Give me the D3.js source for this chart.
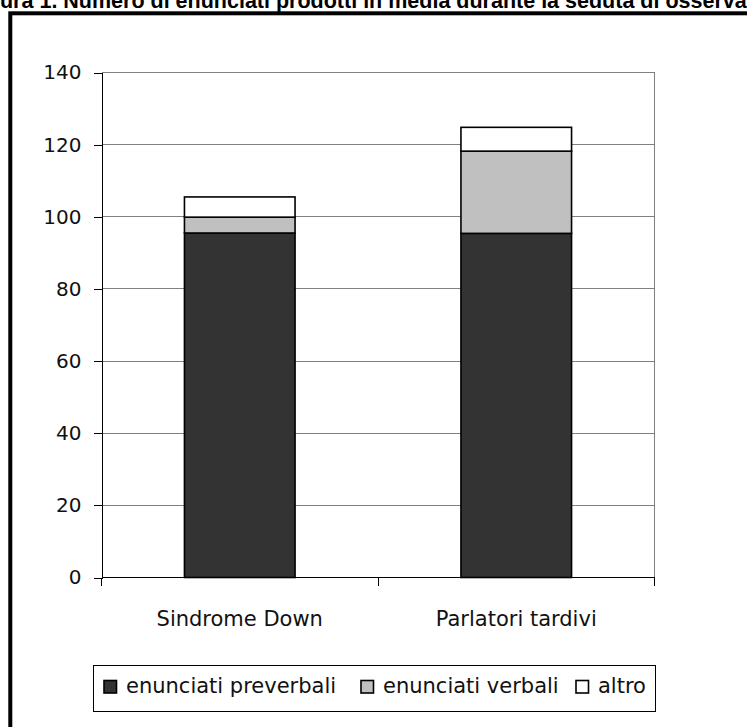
<!DOCTYPE html>
<html>
<head>
<meta charset="utf-8">
<script src="https://cdn.jsdelivr.net/npm/d3@7"></script>
<style>
  html, body { margin: 0; padding: 0; background: #fff; overflow: hidden; }
  svg { display: block; }
</style>
</head>
<body>
<svg id="chart" width="747" height="727"></svg>
<script>
// Average number of utterances per observation session, stacked by type
const titleText = "Figura 1. Numero di enunciati prodotti in media durante la seduta di osservazione";
const titleHidden = "Fig";
const titleVisible = "ura 1. Numero di enunciati prodotti in media durante la seduta di osserva";

const categories = ["Sindrome Down", "Parlatori tardivi"];
const seriesNames = ["enunciati preverbali", "enunciati verbali", "altro"];
const preverbali = [95.5, 95.4];
const verbali = [4.4, 22.8];
const altro = [5.6, 6.6];
const yTicks = [0, 20, 40, 60, 80, 100, 120, 140];
const seriesColors = ["#333333", "#c0c0c0", "#ffffff"];

const svg = d3.select("#chart");
const W = 747, H = 727;

// Title, clipped by the page edges
const measure = (str, size) => {
  const t = svg.append("text")
    .attr("font-family", "Liberation Sans, Arial, sans-serif")
    .attr("font-weight", "bold")
    .attr("font-size", size)
    .text(str);
  const w = t.node().getComputedTextLength();
  t.remove();
  return w;
};
const visW = measure(titleVisible, 100);
const hidW = measure(titleHidden, 100);
const titleSize = 100 * W / visW;
svg.append("text")
  .attr("x", -hidW * titleSize / 100)
  .attr("y", 7.5)
  .attr("font-family", "Liberation Sans, Arial, sans-serif")
  .attr("font-weight", "bold")
  .attr("font-size", titleSize)
  .attr("fill", "#000")
  .text(titleText);

// Outer chart frame
svg.append("rect")
  .attr("x", 10.3).attr("y", 13.3)
  .attr("width", 800).attr("height", 800)
  .attr("fill", "none")
  .attr("stroke", "#000")
  .attr("stroke-width", 4);

// Plot area
const plot = { left: 101.5, right: 654.5, top: 72.5, bottom: 577.5 };

const x = d3.scaleBand()
  .domain(categories)
  .range([plot.left, plot.right])
  .paddingInner(0.6)
  .paddingOuter(0.3);

const y = d3.scaleLinear()
  .domain([0, 140])
  .range([plot.bottom, plot.top]);

// Gridlines
svg.append("g")
  .selectAll("line")
  .data(yTicks.filter(d => d > 0))
  .join("line")
  .attr("x1", plot.left).attr("x2", plot.right)
  .attr("y1", d => y(d)).attr("y2", d => y(d))
  .attr("stroke", "#808080")
  .attr("stroke-width", 1)
  .attr("shape-rendering", "crispEdges");

// Right border of the plot area
svg.append("line")
  .attr("x1", plot.right).attr("x2", plot.right)
  .attr("y1", plot.top).attr("y2", plot.bottom)
  .attr("stroke", "#808080")
  .attr("stroke-width", 1)
  .attr("shape-rendering", "crispEdges");

// Stacked bars
const rows = categories.map((c, i) => ({
  cat: c,
  "enunciati preverbali": preverbali[i],
  "enunciati verbali": verbali[i],
  "altro": altro[i]
}));
const stacked = d3.stack().keys(seriesNames)(rows);

svg.append("g")
  .selectAll("g")
  .data(stacked)
  .join("g")
  .attr("fill", (d, i) => seriesColors[i])
  .selectAll("rect")
  .data(d => d)
  .join("rect")
  .attr("x", d => x(d.data.cat))
  .attr("width", x.bandwidth())
  .attr("y", d => y(d[1]))
  .attr("height", d => y(d[0]) - y(d[1]))
  .attr("stroke", "#000")
  .attr("stroke-width", 1.6);

// Y axis
const yAxis = svg.append("g")
  .attr("transform", `translate(${plot.left},0)`)
  .call(d3.axisLeft(y).tickValues(yTicks).tickSize(8).tickPadding(12).tickFormat(d3.format("d")));
yAxis.select(".domain").attr("stroke", "#000").attr("shape-rendering", "crispEdges");
yAxis.selectAll(".tick line").attr("stroke", "#000").attr("shape-rendering", "crispEdges");
yAxis.selectAll("text")
  .attr("font-family", "DejaVu Sans, sans-serif")
  .attr("font-size", 20)
  .attr("fill", "#111");

// X axis: line with ticks at category boundaries
const boundaries = d3.range(categories.length + 1)
  .map(i => plot.left + i * (plot.right - plot.left) / categories.length);
const xAxis = svg.append("g");
xAxis.append("line")
  .attr("x1", plot.left).attr("x2", plot.right)
  .attr("y1", plot.bottom).attr("y2", plot.bottom)
  .attr("stroke", "#000")
  .attr("shape-rendering", "crispEdges");
xAxis.selectAll("line.bt")
  .data(boundaries)
  .join("line")
  .attr("class", "bt")
  .attr("x1", d => d).attr("x2", d => d)
  .attr("y1", plot.bottom).attr("y2", plot.bottom + 8)
  .attr("stroke", "#000")
  .attr("shape-rendering", "crispEdges");
xAxis.selectAll("text")
  .data(categories)
  .join("text")
  .attr("x", d => x(d) + x.bandwidth() / 2)
  .attr("y", 625.5)
  .attr("text-anchor", "middle")
  .attr("font-family", "DejaVu Sans, sans-serif")
  .attr("font-size", 21)
  .attr("fill", "#111")
  .text(d => d);

// Legend
const legend = svg.append("g");
legend.append("rect")
  .attr("x", 93.5).attr("y", 665.5)
  .attr("width", 562).attr("height", 46)
  .attr("fill", "#fff")
  .attr("stroke", "#000")
  .attr("stroke-width", 1);

const legendX = [104, 361, 576];
const items = legend.selectAll("g.item")
  .data(seriesNames)
  .join("g")
  .attr("class", "item")
  .attr("transform", (d, i) => `translate(${legendX[i]},0)`);
items.append("rect")
  .attr("x", 0).attr("y", 680.5)
  .attr("width", 12.5).attr("height", 12.5)
  .attr("fill", (d, i) => seriesColors[i])
  .attr("stroke", "#000")
  .attr("stroke-width", 1.6);
items.append("text")
  .attr("x", 22)
  .attr("y", 693.3)
  .attr("font-family", "DejaVu Sans, sans-serif")
  .attr("font-size", 21)
  .attr("fill", "#111")
  .text(d => d);
</script>
</body>
</html>
